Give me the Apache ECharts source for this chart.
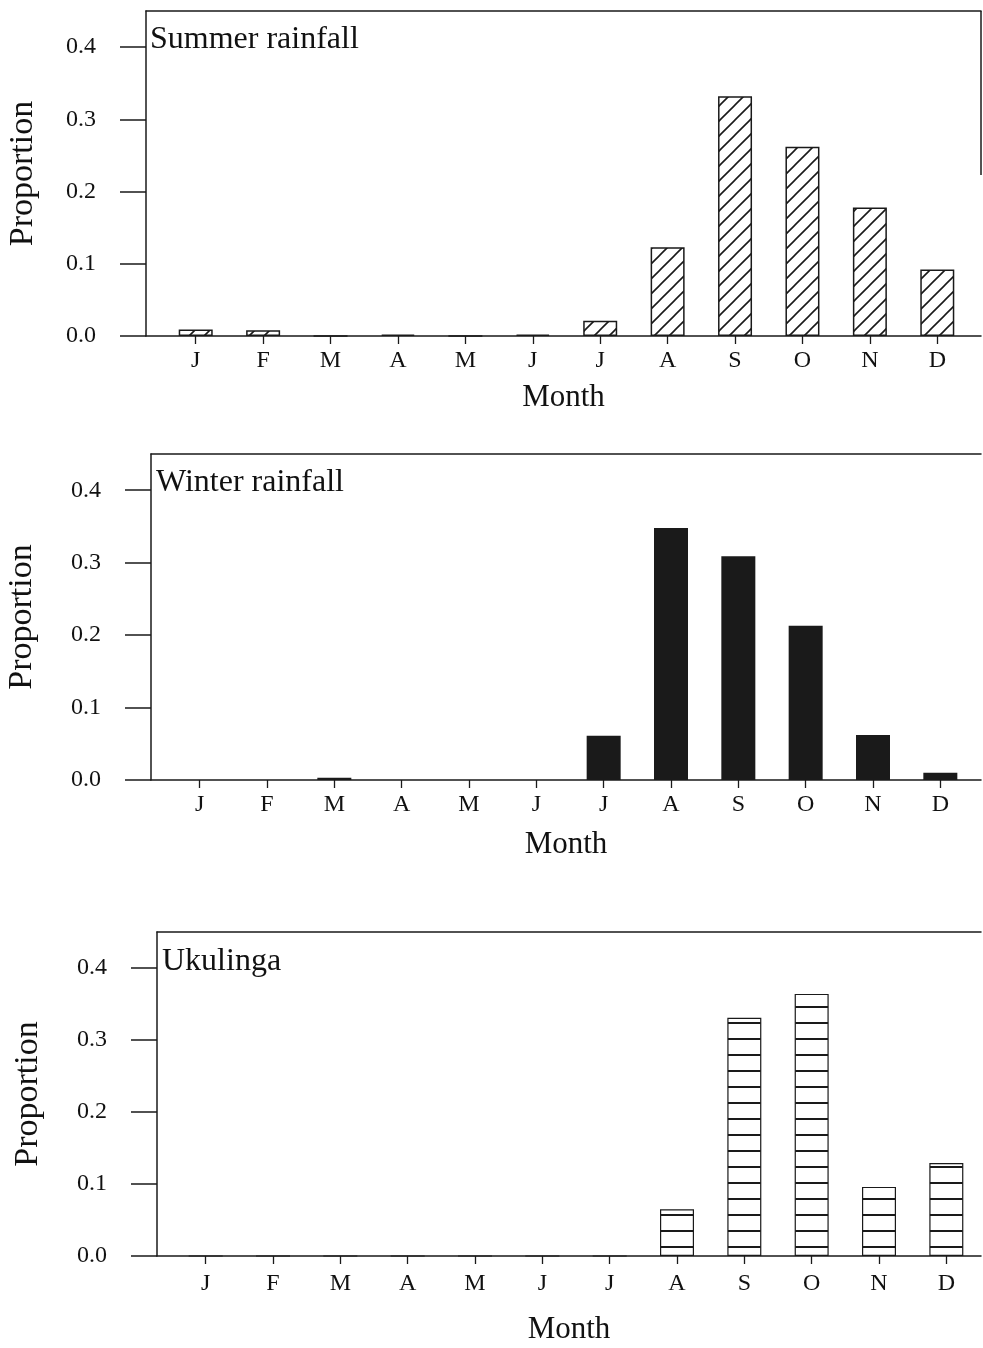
<!DOCTYPE html>
<html>
<head>
<meta charset="utf-8">
<script src="https://cdn.jsdelivr.net/npm/echarts@6/dist/echarts.min.js"></script>
<style>html,body{margin:0;padding:0;background:#fff}#c{width:983px;height:1348px}</style>
</head>
<body>
<div id="c"></div>
<script>
const months = ['J','F','M','A','M','J','J','A','S','O','N','D'];
const summerRainfall = [0.009, 0.008, 0, 0.002, 0, 0.002, 0.021, 0.123, 0.332, 0.262, 0.178, 0.092];
const winterRainfall = [0, 0, 0.003, 0, 0, 0, 0.061, 0.348, 0.309, 0.213, 0.062, 0.010];
const ukulinga = [0, 0, 0, 0, 0, 0, 0, 0.065, 0.331, 0.364, 0.096, 0.129];
const yTicks = [0, 0.1, 0.2, 0.3, 0.4];
const panelTitles = ['Summer rainfall', 'Winter rainfall', 'Ukulinga'];
const yName = 'Proportion';
const xName = 'Month';

const FONT = 'Liberation Serif';
const INK = '#1a1a1a';

function diagPattern() {
  const c = document.createElement('canvas');
  c.width = 15; c.height = 15;
  const g = c.getContext('2d');
  g.fillStyle = '#fff'; g.fillRect(0, 0, 15, 15);
  g.strokeStyle = INK; g.lineWidth = 1.6;
  g.beginPath();
  g.moveTo(-2, 17); g.lineTo(17, -2);
  g.moveTo(-2, 2); g.lineTo(2, -2);
  g.moveTo(13, 17); g.lineTo(17, 13);
  g.stroke();
  return c;
}
function horizPattern() {
  const c = document.createElement('canvas');
  c.width = 16; c.height = 16;
  const g = c.getContext('2d');
  g.fillStyle = '#fff'; g.fillRect(0, 0, 16, 16);
  g.fillStyle = INK; g.fillRect(0, 14, 16, 2);
  return c;
}

const panels = [
  {data: summerRainfall, frameLeft: 146, dataLeft: 162, dataRight: 12, top: 11, height: 325,
   color: {image: diagPattern(), repeat: 'repeat'}, border: 1.5, titleLeft: 146, titleTop: 24, labelMargin: 13, monthGap: 46, nameGap: 106},
  {data: winterRainfall, frameLeft: 151, dataLeft: 166, dataRight: 9, top: 454, height: 326,
   color: INK, border: 0, titleLeft: 152, titleTop: 467, labelMargin: 13, monthGap: 49, nameGap: 112},
  {data: ukulinga, frameLeft: 157, dataLeft: 172, dataRight: 3, top: 932, height: 324,
   color: {image: horizPattern(), repeat: 'repeat'}, border: 1.2, titleLeft: 158, titleTop: 946, labelMargin: 16, monthGap: 58, nameGap: 112}
];

const grid = [], xAxis = [], yAxis = [], series = [], title = [];
panels.forEach((p, i) => {
  grid.push({left: p.frameLeft, right: 2, top: p.top, height: p.height, containLabel: false, outerBoundsMode: 'none'});
  grid.push({left: p.dataLeft, right: p.dataRight, top: p.top, height: p.height, containLabel: false, outerBoundsMode: 'none'});
  const fg = 2 * i, dg = 2 * i + 1;
  xAxis.push({gridIndex: fg, type: 'value', min: 0, max: 1, position: 'bottom',
    axisLine: {show: true, lineStyle: {color: INK, width: 1.5}},
    axisTick: {show: false}, axisLabel: {show: false}, splitLine: {show: false},
    name: xName, nameLocation: 'middle', nameGap: p.monthGap,
    nameTextStyle: {fontFamily: FONT, fontSize: 31, color: '#111'}});
  xAxis.push({gridIndex: fg, type: 'value', min: 0, max: 1, position: 'top',
    axisLine: {show: true, lineStyle: {color: INK, width: 1.5}},
    axisTick: {show: false}, axisLabel: {show: false}, splitLine: {show: false}});
  xAxis.push({gridIndex: dg, type: 'category', data: months, position: 'bottom',
    axisLine: {show: false},
    axisTick: {show: true, alignWithLabel: true, length: 8, lineStyle: {color: INK, width: 1.3}},
    axisLabel: {fontFamily: FONT, fontSize: 24, color: '#111', margin: p.labelMargin, interval: 0},
    splitLine: {show: false}});
  yAxis.push({gridIndex: fg, type: 'value', min: 0, max: 0.45,
    axisLine: {show: true, lineStyle: {color: INK, width: 1.5}},
    axisTick: {show: true, length: 26, customValues: yTicks, lineStyle: {color: INK, width: 1.5}},
    axisLabel: {customValues: yTicks, formatter: v => v.toFixed(1), fontFamily: FONT, fontSize: 24, color: '#111', margin: 50},
    splitLine: {show: false},
    name: yName, nameLocation: 'middle', nameRotate: 90, nameGap: p.nameGap,
    nameTextStyle: {fontFamily: FONT, fontSize: 34, color: '#111'}});
  yAxis.push({gridIndex: dg, type: 'value', min: 0, max: 0.45, show: false});
  series.push({type: 'bar', xAxisIndex: 3 * i + 2, yAxisIndex: 2 * i + 1, data: p.data,
    barWidth: 34, silent: true, animation: false,
    itemStyle: {color: p.color, borderColor: INK, borderWidth: p.border}});
  title.push({text: panelTitles[i], left: p.titleLeft, top: p.titleTop, padding: [0, 0, 0, 4],
    textStyle: {fontFamily: FONT, fontSize: 32, fontWeight: 'normal', color: '#111'}});
});

// partial right edge of the first panel frame (as in the scanned original)
const graphic = [{type: 'line', shape: {x1: 981, y1: 11, x2: 981, y2: 175}, style: {stroke: INK, lineWidth: 1.5}, silent: true}];

const chart = echarts.init(document.getElementById('c'), null, {renderer: 'canvas'});
chart.setOption({animation: false, backgroundColor: '#fff', title, grid, xAxis, yAxis, series, graphic});
</script>
</body>
</html>
